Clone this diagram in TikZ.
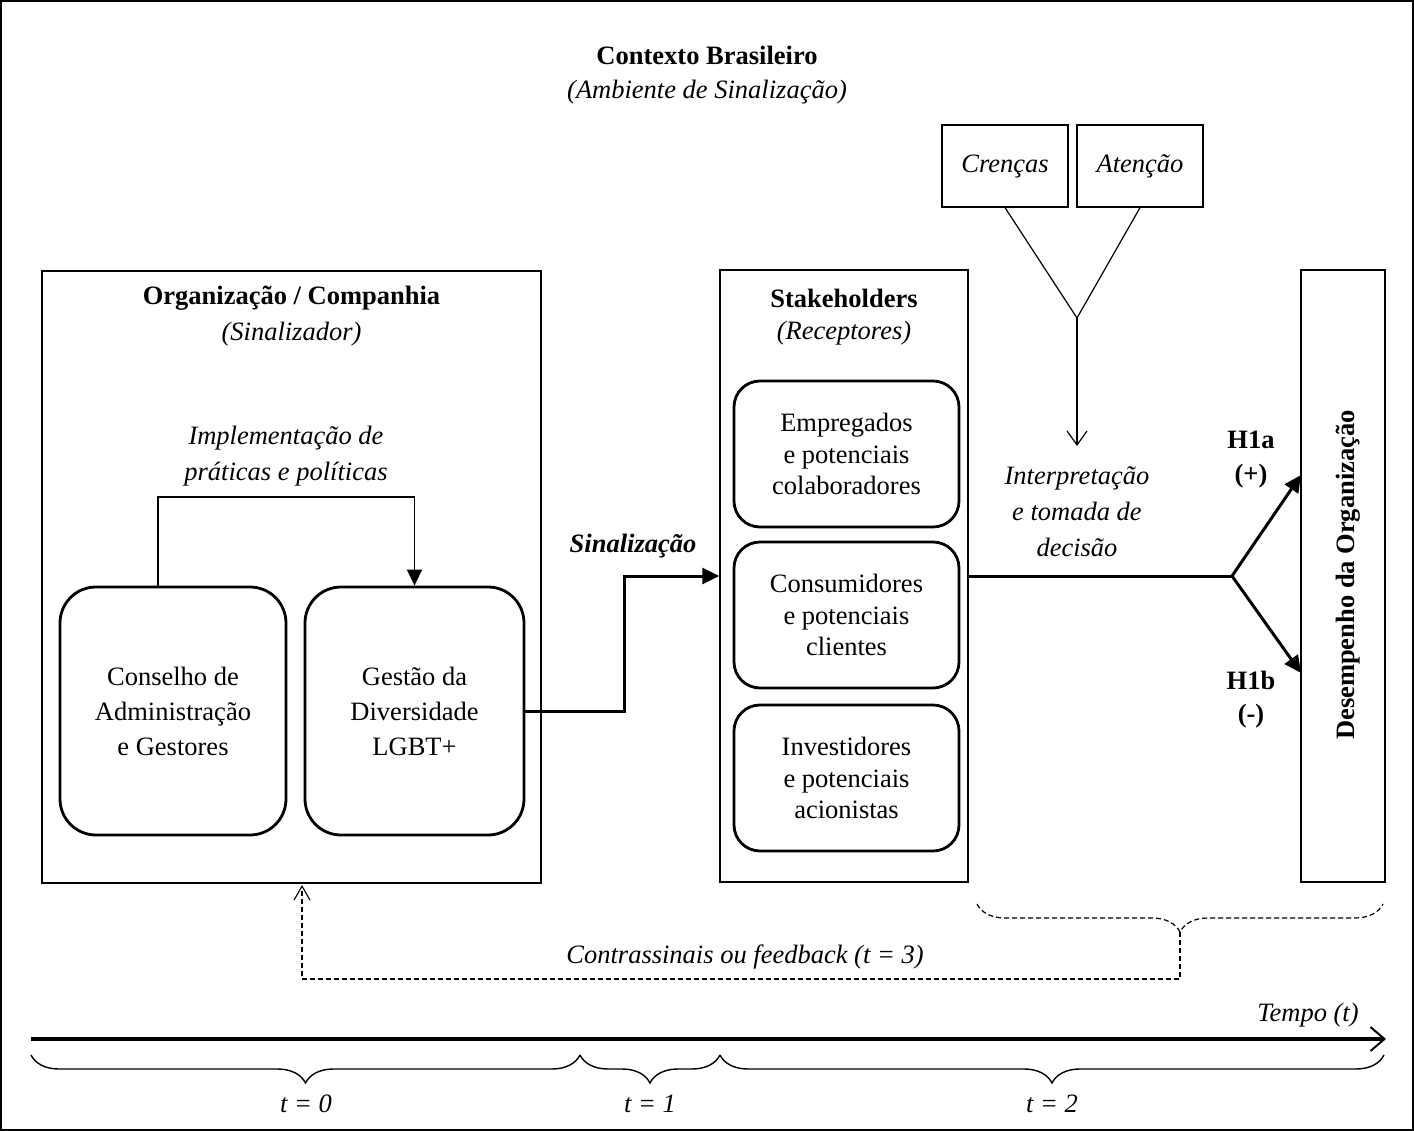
\documentclass[tikz,border=0pt]{standalone}
\usepackage{fontspec}
\setmainfont{Liberation Serif}
\usetikzlibrary{arrows.meta,decorations.pathreplacing,calc}
\begin{document}
\begin{tikzpicture}[x=1pt,y=-1pt,
  txt/.style={font=\fontsize{26.5}{36}\selectfont, align=center, inner sep=0pt},
  frame/.style={draw, line width=1.3pt, inner sep=0pt},
  rbox/.style={draw, line width=2.8pt, rounded corners=36pt, inner sep=0pt, align=center, font=\fontsize{26.5}{35}\selectfont},
  sbox/.style={draw, line width=2.8pt, rounded corners=26pt, inner sep=0pt, align=center, font=\fontsize{26.5}{31.5}\selectfont},
  thinarrow/.style={line width=1.5pt, -{Triangle[length=16pt,width=15pt]}},
  boldarrow/.style={line width=3pt, -{Triangle[length=17pt,width=16pt]}},
  openarrow/.style={line width=1.2pt, -{Straight Barb[length=14pt,width=20pt,line width=1.2pt]}},
  dashline/.style={line width=1.2pt, dash pattern=on 5pt off 3pt},
  brc/.style={line width=1.4pt, decorate, decoration={brace, mirror, amplitude=28pt}}
]
\useasboundingbox (0,0) rectangle (1414,1131);
\draw[line width=1.5pt] (1,1) rectangle (1413,1130);

% title
\node[txt, font=\fontsize{26.5}{36}\selectfont\bfseries] (title) at (707,55) {Contexto Brasileiro};
\node[txt, font=\fontsize{26.5}{36}\selectfont\itshape] (subtitle) at (707,92) {(Ambiente de Sinaliza\c{c}\~ao)};

% organisation
\node[frame, minimum width=499pt, minimum height=612pt] (org) at (291.5,577) {};
\node[txt, font=\fontsize{26.5}{36}\selectfont\bfseries] (orgt) at (291.5,298) {Organiza\c{c}\~ao / Companhia};
\node[txt, font=\fontsize{26.5}{36}\selectfont\itshape] (orgs) at (291.5,334) {(Sinalizador)};
\node[txt, font=\fontsize{26.5}{36}\selectfont\itshape] (impl) at (286,456) {Implementa\c{c}\~ao de\\pr\'aticas e pol\'iticas};
\node[rbox, minimum width=226pt, minimum height=248pt] (cons) at (173,711) {Conselho de\\Administra\c{c}\~ao\\e Gestores};
\node[rbox, minimum width=219pt, minimum height=248pt] (gest) at (414.5,711) {Gest\~ao da\\Diversidade\\LGBT+};
\coordinate (implstart) at (158,587);
\draw[thinarrow] (implstart) -- (158,497) -| (gest.north);

% stakeholders
\node[frame, minimum width=248pt, minimum height=612pt] (stake) at (844,576) {};
\node[txt, font=\fontsize{26.5}{36}\selectfont\bfseries] (staket) at (844,298) {Stakeholders};
\node[txt, font=\fontsize{26.5}{36}\selectfont\itshape] (stakes) at (844,333) {(Receptores)};
\node[sbox, minimum width=225pt, minimum height=146pt] (emp) at (846.5,454) {Empregados\\e potenciais\\colaboradores};
\node[sbox, minimum width=225pt, minimum height=146pt] (cli) at (846.5,615) {Consumidores\\e potenciais\\clientes};
\node[sbox, minimum width=225pt, minimum height=146pt] (inv) at (846.5,778) {Investidores\\e potenciais\\acionistas};

% signalling
\draw[boldarrow] (gest.east) -- ++(99,0) |- (stake.west);
\node[txt, font=\fontsize{26.5}{36}\selectfont\bfseries\itshape] (sig) at (633,546) {Sinaliza\c{c}\~ao};

% beliefs / attention
\node[frame, minimum width=126pt, minimum height=82pt, font=\fontsize{26.5}{36}\selectfont\itshape] (cren) at (1005,166) {Cren\c{c}as};
\node[frame, minimum width=126pt, minimum height=82pt, font=\fontsize{26.5}{36}\selectfont\itshape] (aten) at (1140,166) {Aten\c{c}\~ao};
\coordinate (vee) at (1077,318);
\coordinate (veeend) at (1077,446);
\draw[line width=1.2pt] (cren.south) -- (vee) -- (aten.south);
\draw[openarrow] (vee) -- (veeend);
\node[txt, font=\fontsize{26.5}{36}\selectfont\itshape] (interp) at (1077,512) {Interpreta\c{c}\~ao\\e tomada de\\decis\~ao};

% performance
\node[frame, minimum width=84pt, minimum height=612pt] (desemp) at (1343,576) {};
\node[txt, font=\fontsize{26.5}{36}\selectfont\bfseries, rotate=90] (desempt) at (1348,575) {Desempenho da Organiza\c{c}\~ao};
\coordinate (fork) at (1232,576);
\coordinate (h1aend) at (1301,475);
\coordinate (h1bend) at (1301,673);
\draw[line width=3pt] (stake.east) -- (fork);
\draw[boldarrow] (fork) -- (h1aend);
\draw[boldarrow] (fork) -- (h1bend);
\node[txt, font=\fontsize{26.5}{36}\selectfont\bfseries] (h1a) at (1251,440) {H1a};
\node[txt, font=\fontsize{26.5}{36}\selectfont\bfseries] (h1ap) at (1251,476) {(+)};
\node[txt, font=\fontsize{26.5}{36}\selectfont\bfseries] (h1b) at (1251,680) {H1b};
\node[txt, font=\fontsize{26.5}{36}\selectfont\bfseries] (h1bp) at (1251,716) {(-)};

% feedback
\coordinate (brA) at (977,904);
\coordinate (brB) at (1383,904);
\coordinate (brtip) at (1180,932);
\coordinate (fbend) at (302,885);
\draw[brc, dashline] (brA) -- (brB);
\draw[dashline, -{Straight Barb[length=14pt,width=16pt,line width=1.1pt]}] (brtip) -- (1180,979) -| (fbend);
\node[txt, font=\fontsize{26.5}{36}\selectfont\itshape] (fb) at (745,957) {Contrassinais ou feedback (t = 3)};

% time axis
\coordinate (tstart) at (31,1039);
\coordinate (tend) at (1386,1039);
\draw[line width=4pt, -{Straight Barb[length=14pt,width=24pt,line width=2pt]}] (tstart) -- (tend);
\node[txt, font=\fontsize{26.5}{36}\selectfont\itshape] (tempo) at (1308,1015) {Tempo (t)};
\coordinate (b0) at (31,1055);
\coordinate (b1) at (580,1055);
\coordinate (b2) at (720,1055);
\coordinate (b3) at (1384,1055);
\draw[brc] (b0) -- (b1);
\draw[brc] (b1) -- (b2);
\draw[brc] (b2) -- (b3);
\node[txt, font=\fontsize{26.5}{36}\selectfont\itshape] (t0) at (306,1104) {t = 0};
\node[txt, font=\fontsize{26.5}{36}\selectfont\itshape] (t1) at (650,1104) {t = 1};
\node[txt, font=\fontsize{26.5}{36}\selectfont\itshape] (t2) at (1052,1104) {t = 2};
\end{tikzpicture}
\end{document}
